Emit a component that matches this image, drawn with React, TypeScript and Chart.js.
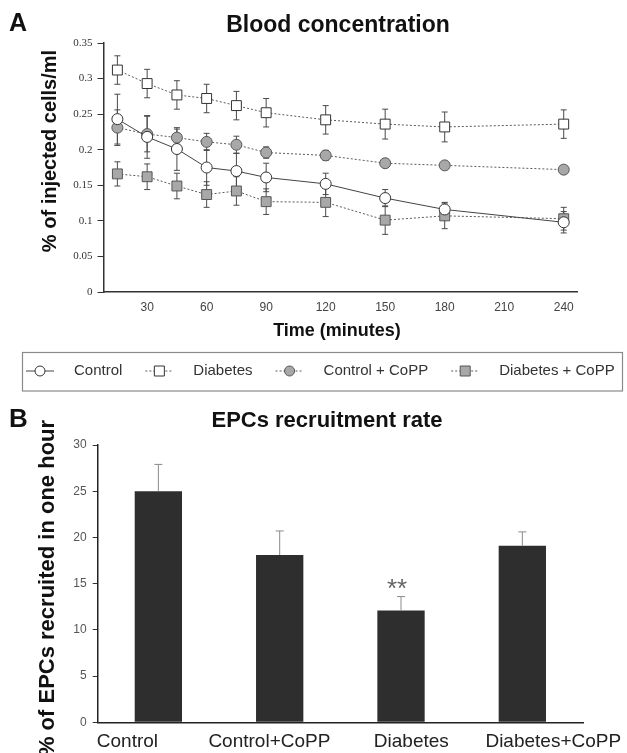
import React, { useEffect, useRef } from "react";
import { Chart, registerables } from "chart.js";

Chart.register(...registerables);

const SANS = "'Liberation Sans', Arial, sans-serif";
const SERIF = "'Liberation Serif', 'Times New Roman', serif";

// ---------- Panel A data ----------
const timeMinutes = [15, 30, 45, 60, 75, 90, 120, 150, 180, 240];
const controlValues = [0.243, 0.218, 0.201, 0.175, 0.17, 0.161, 0.152, 0.132, 0.116, 0.098];
const controlErrors = [0.035, 0.03, 0.03, 0.025, 0.025, 0.02, 0.015, 0.012, 0.01, 0.015];
const diabetesValues = [0.312, 0.293, 0.277, 0.272, 0.262, 0.252, 0.242, 0.236, 0.232, 0.236];
const diabetesErrors = [0.02, 0.02, 0.02, 0.02, 0.02, 0.02, 0.02, 0.021, 0.021, 0.02];
const controlCoppValues = [0.231, 0.222, 0.217, 0.211, 0.207, 0.196, 0.192, 0.181, 0.178, 0.172];
const controlCoppErrors = [0.025, 0.025, 0.012, 0.012, 0.012, 0.008, 0.007, 0.006, 0.004, 0.004];
const diabetesCoppValues = [0.166, 0.162, 0.149, 0.137, 0.142, 0.127, 0.126, 0.101, 0.107, 0.103];
const diabetesCoppErrors = [0.017, 0.018, 0.018, 0.018, 0.02, 0.018, 0.02, 0.02, 0.018, 0.016];
const seriesLabels = ["Control", "Diabetes", "Control + CoPP", "Diabetes + CoPP"];
const xTicksA = [30, 60, 90, 120, 150, 180, 210, 240];
const yTicksA = [0, 0.05, 0.1, 0.15, 0.2, 0.25, 0.3, 0.35];

// ---------- Panel B data ----------
const groupsB = ["Control", "Control+CoPP", "Diabetes", "Diabetes+CoPP"];
const recruitValues = [25, 18.1, 12.1, 19.1];
const recruitErrors = [2.9, 2.6, 1.5, 1.5];
const significance = ["", "", "**", ""];
const yTicksB = [0, 5, 10, 15, 20, 25, 30];

const seriesValues = [controlValues, diabetesValues, controlCoppValues, diabetesCoppValues];
const seriesErrors = [controlErrors, diabetesErrors, controlCoppErrors, diabetesCoppErrors];

const seriesStyles = [
  { line: "#444444", dash: [] as number[], shape: "circle", fill: "#ffffff", edge: "#333333" },
  { line: "#5a5a5a", dash: [2, 2], shape: "rect", fill: "#ffffff", edge: "#333333" },
  { line: "#5a5a5a", dash: [2, 2], shape: "circle", fill: "#a8a8a8", edge: "#555555" },
  { line: "#5a5a5a", dash: [2, 2], shape: "rect", fill: "#a8a8a8", edge: "#555555" },
];

const W = 627;
const HA = 400;
const HB = 353;

const errorBarsA = {
  id: "errorBarsA",
  beforeDatasetsDraw(chart: any) {
    const { ctx } = chart;
    const y = chart.scales.y;
    ctx.save();
    ctx.strokeStyle = "#4a4a4a";
    ctx.lineWidth = 1;
    ctx.setLineDash([]);
    chart.data.datasets.forEach((ds: any, di: number) => {
      const meta = chart.getDatasetMeta(di);
      ds.data.forEach((p: any, i: number) => {
        const e = ds.errors[i];
        const x = meta.data[i].x;
        const yt = y.getPixelForValue(p.y + e);
        const yb = y.getPixelForValue(p.y - e);
        ctx.beginPath();
        ctx.moveTo(x, yt);
        ctx.lineTo(x, yb);
        ctx.moveTo(x - 3, yt);
        ctx.lineTo(x + 3, yt);
        ctx.moveTo(x - 3, yb);
        ctx.lineTo(x + 3, yb);
        ctx.stroke();
      });
    });
    ctx.restore();
  },
};

const legendA = {
  id: "legendA",
  afterDraw(chart: any) {
    const { ctx } = chart;
    ctx.save();
    ctx.strokeStyle = "#8a8a8a";
    ctx.lineWidth = 1.2;
    ctx.strokeRect(22.5, 352.5, 600, 38.5);
    const cy = 371;
    let x = 26;
    ctx.font = `15px ${SANS}`;
    ctx.textBaseline = "middle";
    ctx.textAlign = "left";
    seriesLabels.forEach((label, i) => {
      const st = seriesStyles[i];
      ctx.strokeStyle = st.line;
      ctx.lineWidth = 1;
      ctx.setLineDash(st.dash);
      ctx.beginPath();
      ctx.moveTo(x, cy);
      ctx.lineTo(x + 28, cy);
      ctx.stroke();
      ctx.setLineDash([]);
      const mx = x + 14;
      ctx.fillStyle = st.fill;
      ctx.strokeStyle = st.edge;
      ctx.beginPath();
      if (st.shape === "circle") ctx.arc(mx, cy, 5, 0, Math.PI * 2);
      else ctx.rect(mx - 5, cy - 5, 10, 10);
      ctx.fill();
      ctx.stroke();
      ctx.fillStyle = "#333";
      const tx = x + 48;
      ctx.fillText(label, tx, cy);
      x = tx + ctx.measureText(label).width + 23;
    });
    ctx.restore();
  },
};

const textA = {
  id: "textA",
  afterDraw(chart: any) {
    const { ctx } = chart;
    ctx.save();
    ctx.fillStyle = "#111";
    ctx.textAlign = "left";
    ctx.textBaseline = "alphabetic";
    ctx.font = `bold 25px ${SANS}`;
    ctx.fillText("A", 9, 31);
    ctx.textAlign = "center";
    ctx.font = `bold 23px ${SANS}`;
    ctx.fillText("Blood concentration", 338, 32);
    ctx.font = `bold 18px ${SANS}`;
    ctx.textBaseline = "middle";
    ctx.fillText("Time (minutes)", 337, 331);
    ctx.translate(50, 151);
    ctx.rotate(-Math.PI / 2);
    ctx.font = `bold 20px ${SANS}`;
    ctx.fillText("% of injected cells/ml", 0, 0);
    ctx.restore();
  },
};

const errorBarsB = {
  id: "errorBarsB",
  afterDatasetsDraw(chart: any) {
    const { ctx } = chart;
    const y = chart.scales.y;
    const meta = chart.getDatasetMeta(0);
    ctx.save();
    ctx.strokeStyle = "#8a8a8a";
    ctx.lineWidth = 1;
    recruitValues.forEach((v, i) => {
      const x = meta.data[i].x;
      const y0 = y.getPixelForValue(v);
      const y1 = y.getPixelForValue(v + recruitErrors[i]);
      ctx.beginPath();
      ctx.moveTo(x, y0);
      ctx.lineTo(x, y1);
      ctx.moveTo(x - 4, y1);
      ctx.lineTo(x + 4, y1);
      ctx.stroke();
    });
    ctx.restore();
  },
};

const textB = {
  id: "textB",
  afterDraw(chart: any) {
    const { ctx, chartArea } = chart;
    const xs = chart.scales.x;
    const ys = chart.scales.y;
    ctx.save();
    ctx.fillStyle = "#111";
    ctx.textAlign = "left";
    ctx.textBaseline = "alphabetic";
    ctx.font = `bold 26px ${SANS}`;
    ctx.fillText("B", 9, 27);
    ctx.textAlign = "center";
    ctx.font = `bold 22px ${SANS}`;
    ctx.fillText("EPCs recruitment rate", 327, 27);
    // category labels
    const mid = (chartArea.left + chartArea.right) / 2;
    ctx.font = `19px ${SANS}`;
    ctx.fillStyle = "#222";
    ctx.textBaseline = "middle";
    groupsB.forEach((g, i) => {
      const bx = xs.getPixelForValue(i);
      ctx.fillText(g, mid + (bx - mid) * 1.17, 342);
    });
    // significance marks
    ctx.fillStyle = "#666";
    ctx.font = `26px ${SANS}`;
    ctx.textBaseline = "alphabetic";
    significance.forEach((s, i) => {
      if (!s) return;
      const bx = xs.getPixelForValue(i);
      const top = ys.getPixelForValue(recruitValues[i] + recruitErrors[i]);
      ctx.fillText(s, bx - 4, top);
    });
    // y title
    ctx.fillStyle = "#111";
    ctx.textBaseline = "middle";
    ctx.translate(48, 188);
    ctx.rotate(-Math.PI / 2);
    ctx.font = `bold 22px ${SANS}`;
    ctx.fillText("% of EPCs recruited in one hour", 0, 0);
    ctx.restore();
  },
};

export default function App() {
  const refA = useRef<HTMLCanvasElement>(null);
  const refB = useRef<HTMLCanvasElement>(null);

  useEffect(() => {
    const chartA = new Chart(refA.current as HTMLCanvasElement, {
      type: "line",
      data: {
        datasets: seriesLabels.map((label, si) => {
          const st = seriesStyles[si];
          return {
            label,
            data: timeMinutes.map((t, i) => ({ x: t, y: seriesValues[si][i] })),
            errors: seriesErrors[si],
            borderColor: st.line,
            borderWidth: 1,
            borderDash: st.dash,
            pointStyle: st.shape,
            pointRadius: st.shape === "rect" ? 7 : 5.5,
            pointBackgroundColor: st.fill,
            pointBorderColor: st.edge,
            pointBorderWidth: 1,
            fill: false,
            tension: 0,
          } as any;
        }),
      },
      options: {
        animation: false,
        responsive: false,
        devicePixelRatio: 1,
        layout: { padding: { left: 0, top: 43, right: 49.4, bottom: 0 } },
        plugins: { legend: { display: false }, title: { display: false }, tooltip: { enabled: false } },
        scales: {
          x: {
            type: "linear",
            min: 8,
            max: 247,
            afterBuildTicks: (s: any) => {
              s.ticks = xTicksA.map((v) => ({ value: v }));
            },
            afterFit: (s: any) => {
              s.height = HA - 292;
            },
            grid: { display: true, drawOnChartArea: false, drawTicks: false },
            border: { display: true, color: "#333", width: 1.5 },
            ticks: {
              padding: 8,
              color: "#444",
              font: { family: SANS, size: 12 },
              callback: (v: any) => String(v),
            },
          },
          y: {
            type: "linear",
            min: 0,
            max: 0.35,
            afterBuildTicks: (s: any) => {
              s.ticks = yTicksA.map((v) => ({ value: v }));
            },
            afterFit: (s: any) => {
              s.width = 103.5;
            },
            grid: { display: true, drawOnChartArea: false, drawTicks: true, tickLength: 6, color: "#333" },
            border: { display: true, color: "#333", width: 1.5 },
            ticks: {
              padding: 5,
              color: "#333",
              font: { family: SERIF, size: 11 },
              callback: (v: any) => String(v),
            },
          },
        },
      } as any,
      plugins: [errorBarsA, legendA, textA],
    });

    const chartB = new Chart(refB.current as HTMLCanvasElement, {
      type: "bar",
      data: {
        labels: groupsB,
        datasets: [
          {
            label: "EPCs recruitment",
            data: recruitValues,
            backgroundColor: "#2e2e2e",
            borderWidth: 0,
            barPercentage: 0.39,
            categoryPercentage: 1,
          },
        ],
      },
      options: {
        animation: false,
        responsive: false,
        devicePixelRatio: 1,
        layout: { padding: { left: 0, top: 45, right: 44, bottom: 0 } },
        plugins: { legend: { display: false }, title: { display: false }, tooltip: { enabled: false } },
        scales: {
          x: {
            afterFit: (s: any) => {
              s.height = HB - 322.3;
            },
            grid: { display: false },
            border: { display: true, color: "#222", width: 1.5 },
            ticks: { display: false },
          },
          y: {
            min: 0,
            max: 30,
            afterBuildTicks: (s: any) => {
              s.ticks = yTicksB.map((v) => ({ value: v }));
            },
            afterFit: (s: any) => {
              s.width = 97.7;
            },
            grid: { display: true, drawOnChartArea: false, drawTicks: true, tickLength: 5, color: "#333" },
            border: { display: true, color: "#222", width: 1.5 },
            ticks: {
              padding: 6,
              color: "#555",
              font: { family: SANS, size: 12 },
              callback: (v: any) => String(v),
            },
          },
        },
      } as any,
      plugins: [errorBarsB, textB],
    });

    return () => {
      chartA.destroy();
      chartB.destroy();
    };
  }, []);

  return (
    <div style={{ position: "absolute", left: 0, top: 0, width: W, height: HA + HB, background: "#fff" }}>
      <canvas ref={refA} width={W} height={HA} style={{ display: "block", position: "absolute", left: 0, top: 0 }} />
      <canvas ref={refB} width={W} height={HB} style={{ display: "block", position: "absolute", left: 0, top: HA }} />
    </div>
  );
}
